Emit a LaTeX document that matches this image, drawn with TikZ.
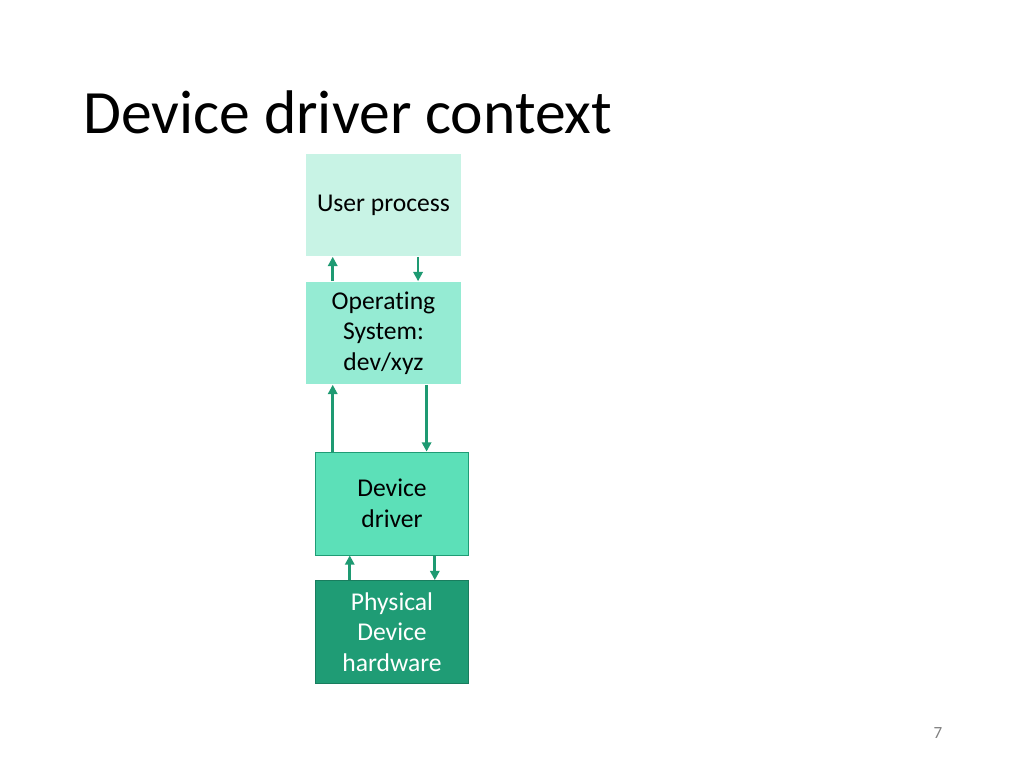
\documentclass[tikz,border=0pt]{standalone}
\usepackage{fontspec}
\setmainfont{Carlito}[RawFeature=-liga]
\usetikzlibrary{arrows.meta}
\definecolor{userfill}{HTML}{C8F3E5}
\definecolor{osfill}{HTML}{95EBD3}
\definecolor{driverfill}{HTML}{5CE0B8}
\definecolor{hwfill}{HTML}{1F9C75}
\definecolor{flowgreen}{HTML}{1E9A72}
\tikzset{
  layer/.style={minimum width=109pt, minimum height=72.4pt, align=center, inner sep=2pt,
    font=\fontsize{18}{21.5}\selectfont},
  flow/.style={flowgreen, line width=2pt, -{Triangle[length=6.5pt,width=6.5pt]}}
}
\begin{document}
\begin{tikzpicture}[x=0.703pt, y=-0.703pt]
		\useasboundingbox (0,0) rectangle (1024,768);
		% title
		\node[anchor=base west, inner sep=0pt, font=\fontsize{43.3}{50}\selectfont] (title) at (83,133) {Device driver context};
		
		% layers
		\node[layer, fill=userfill] (user) at (383.5,205) {User process};
		\node[layer, fill=osfill] (os) at (383.5,333) {Operating\\System:\\dev/xyz};
		\node[layer, fill=driverfill, draw=hwfill, line width=0.6pt, minimum width=108pt] (driver) at (392,503.5) {Device\\driver};
		\node[layer, fill=hwfill, draw=hwfill!80!black, line width=0.6pt, minimum width=108pt, text=white] (hw) at (392,632) {Physical\\Device\\hardware};
		
		% calls up and down
		\draw[flow] ([xshift=19pt]os.north west) -- ([xshift=19pt]os.north west |- user.south);
		\draw[flow] ([xshift=79pt]user.south west) -- ([xshift=79pt]user.south west |- os.north);
		\draw[flow] ([xshift=19pt]os.south west |- driver.north) -- ([xshift=19pt]os.south west);
		\draw[flow] ([xshift=85pt]os.south west) -- ([xshift=85pt]os.south west |- driver.north);
		\draw[flow] ([xshift=24.6pt]hw.north west) -- ([xshift=24.6pt]hw.north west |- driver.south);
		\draw[flow] ([xshift=84.4pt]driver.south west) -- ([xshift=84.4pt]driver.south west |- hw.north);
		
		% page number
		\node[gray, font=\fontsize{12}{14}\selectfont] (page) at (938,733) {7};
	\end{tikzpicture}
\end{document}
